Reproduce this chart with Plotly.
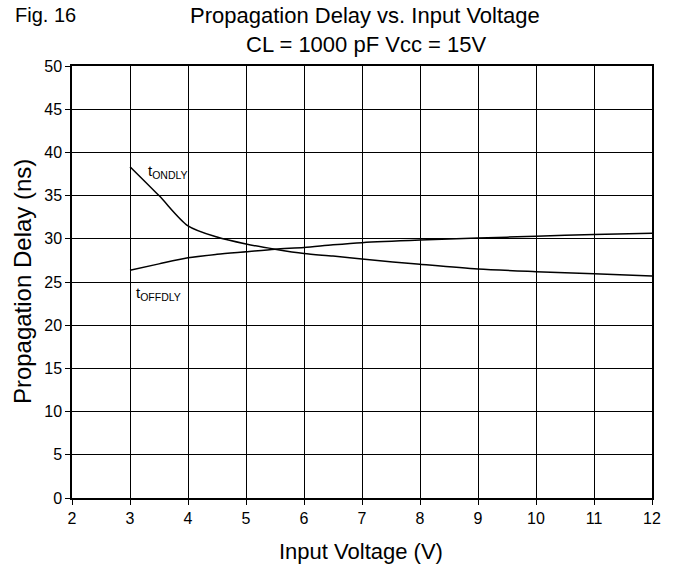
import plotly.graph_objects as go

voltage = [3, 3.5, 4, 4.5, 5, 5.5, 6, 6.5, 7, 8, 9, 10, 11, 12]
t_ondly = [38.35, 35.0, 31.5, 30.2, 29.4, 28.8, 28.3, 28.0, 27.65, 27.05, 26.5, 26.2, 25.96, 25.7]
t_offdly = [26.35, 27.1, 27.8, 28.2, 28.5, 28.8, 29.0, 29.3, 29.55, 29.85, 30.08, 30.3, 30.5, 30.65]

x_ticks = [2, 3, 4, 5, 6, 7, 8, 9, 10, 11, 12]
y_ticks = [0, 5, 10, 15, 20, 25, 30, 35, 40, 45, 50]

FONT = "Liberation Sans, Arial, sans-serif"

fig = go.Figure()
fig.add_trace(go.Scatter(x=voltage, y=t_ondly, mode="lines",
                         line=dict(color="black", width=1.5, shape="spline", smoothing=0.8),
                         name="tONDLY", showlegend=False))
fig.add_trace(go.Scatter(x=voltage, y=t_offdly, mode="lines",
                         line=dict(color="black", width=1.5, shape="spline", smoothing=0.8),
                         name="tOFFDLY", showlegend=False))

axis_common = dict(ticks="outside", ticklen=5, tickcolor="black", tickwidth=1,
                   showgrid=True, gridcolor="black", gridwidth=1, showline=True,
                   linecolor="black", linewidth=1.5, mirror=True, zeroline=False,
                   tickfont=dict(size=16, family=FONT, color="black"))

fig.update_layout(
    width=679, height=571,
    margin=dict(l=72, r=27, t=66, b=73),
    paper_bgcolor="white", plot_bgcolor="white",
    font=dict(family=FONT, color="black"),
    xaxis=dict(range=[2, 12], tickvals=x_ticks, **axis_common),
    yaxis=dict(range=[0, 50], tickvals=y_ticks, **axis_common),
    annotations=[
        dict(text="Fig. 16", xref="paper", yref="paper", x=-0.102, y=1.118,
             xanchor="left", yanchor="middle", showarrow=False,
             font=dict(size=20, family=FONT)),
        dict(text="Propagation Delay vs. Input Voltage", xref="paper", yref="paper",
             x=0.505, y=1.116, xanchor="center", yanchor="middle", showarrow=False,
             font=dict(size=22, family=FONT)),
        dict(text="CL = 1000 pF Vcc = 15V", xref="paper", yref="paper",
             x=0.507, y=1.049, xanchor="center", yanchor="middle", showarrow=False,
             font=dict(size=22, family=FONT)),
        dict(text="Input Voltage (V)", xref="paper", yref="paper",
             x=0.499, y=-0.123, xanchor="center", yanchor="middle", showarrow=False,
             font=dict(size=22, family=FONT)),
        dict(text="Propagation Delay (ns)", xref="paper", yref="paper",
             x=-0.086, y=0.5, xanchor="center", yanchor="middle", showarrow=False,
             textangle=-90, font=dict(size=24, family=FONT)),
        dict(text="t<sub>ONDLY</sub>", x=3.28, y=37.8, xanchor="left", yanchor="middle",
             showarrow=False, font=dict(size=15, family=FONT)),
        dict(text="t<sub>OFFDLY</sub>", x=3.07, y=23.7, xanchor="left", yanchor="middle",
             showarrow=False, font=dict(size=15, family=FONT)),
    ],
)

fig.write_html("out.html", config={"displayModeBar": False},
               post_script="document.body.style.margin='0';")
